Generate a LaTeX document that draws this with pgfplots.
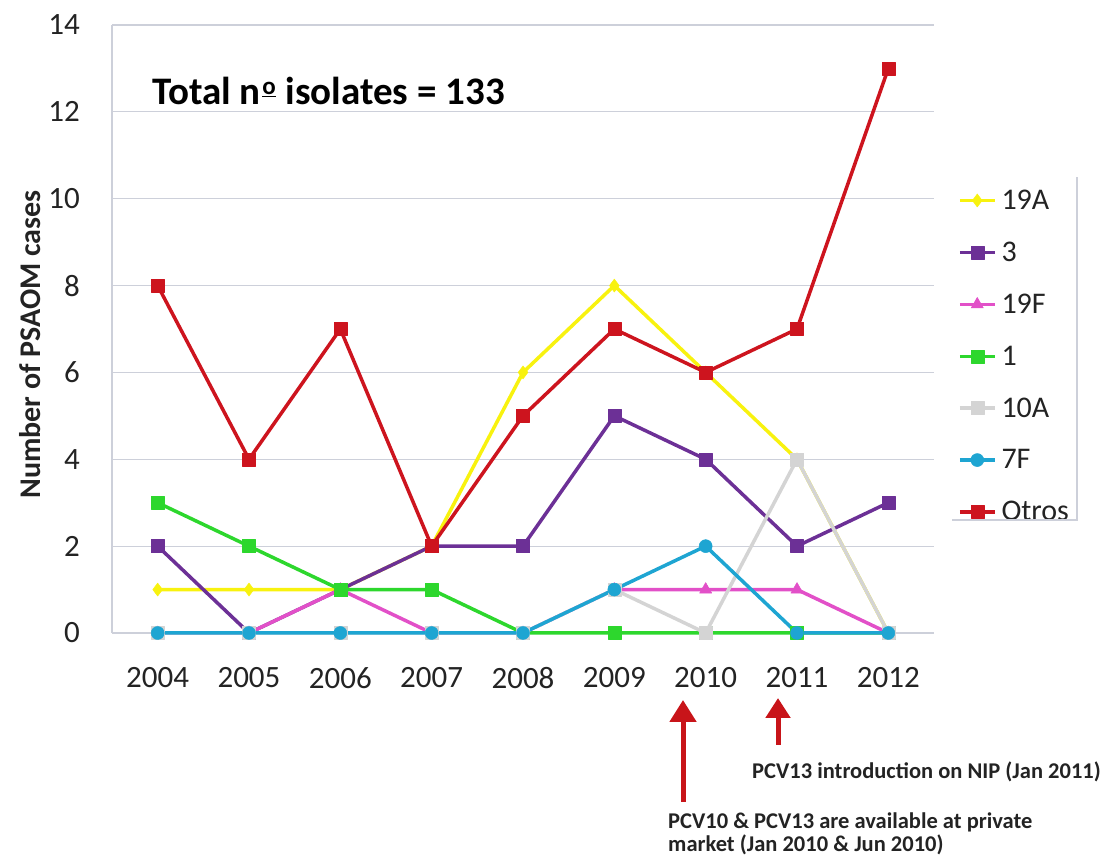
\documentclass[border=0pt]{standalone}
\usepackage{pgfplots}
\pgfplotsset{compat=1.18}
\usepackage{fontspec}
\setmainfont{Carlito}
\usetikzlibrary{arrows.meta}
\definecolor{cYel}{RGB}{248,242,15}
\definecolor{cPur}{RGB}{108,48,150}
\definecolor{cMag}{RGB}{226,80,200}
\definecolor{cGrn}{RGB}{45,215,45}
\definecolor{cGry}{RGB}{212,212,212}
\definecolor{cCya}{RGB}{30,165,210}
\definecolor{cRed}{RGB}{205,20,30}
\definecolor{gridgray}{RGB}{205,208,218}
\definecolor{txt}{RGB}{35,35,35}
\definecolor{arrowred}{RGB}{200,20,25}
\begin{document}
\begin{tikzpicture}[x=1pt,y=1pt]
\useasboundingbox (0,0) rectangle (1116,856);
\begin{axis}[
  at={(112pt,223pt)}, anchor=south west,
  scale only axis, width=822pt, height=608pt,
  xmin=2003.5, xmax=2012.5, ymin=0, ymax=14,
  xtick={2004,2005,...,2012}, ytick={0,2,...,14},
  axis x line*=bottom, axis y line*=left,
  axis line style={draw=gridgray, line width=1.2pt, -},
  ymajorgrids, grid style={gridgray, line width=1.2pt},
  major tick length=0pt,
  /pgf/number format/assume math mode=true,
  /pgf/number format/1000 sep={},
  tick label style={font=\fontsize{31}{36}\selectfont, text=txt},
  yticklabel style={anchor=east, inner sep=0pt, xshift=-32pt},
  xticklabel style={anchor=north, inner sep=0pt, yshift=-34pt},
  ylabel={Number of PSAOM cases},
  ylabel style={at={(axis description cs:-0.0998,0.4745)}, anchor=center, rotate=0, font=\bfseries\fontsize{30}{34}\selectfont, text=txt},
  legend style={at={(axis description cs:1.0292,0.7286)}, anchor=north west, draw=none, fill=none,
    inner sep=0pt, outer sep=0pt, row sep=31pt, column sep=5pt,
    nodes={inner sep=0pt}, font=\fontsize{30}{34}\selectfont, text=txt},
  legend cell align=left,
  legend image code/.code={\draw[#1, mark repeat=2, mark phase=2] plot coordinates {(0pt,0pt) (17.5pt,0pt) (35pt,0pt)};},
  every axis plot/.append style={line width=3.5pt, line join=round},
  clip=false,
]
\addplot[cYel, mark=diamond*, mark size=6.5pt, mark options={solid, fill=cYel, draw=cYel, line width=0.5pt}] coordinates {
 (2004,1)(2005,1)(2006,1)(2007,2)(2008,6)(2009,8)(2010,6)(2011,4)(2012,0)};
\addlegendentry{19A}
\addplot[cPur, mark=square*, mark size=6.5pt, mark options={solid, fill=cPur, draw=cPur, line width=0.5pt}] coordinates {
 (2004,2)(2005,0)(2006,1)(2007,2)(2008,2)(2009,5)(2010,4)(2011,2)(2012,3)};
\addlegendentry{3}
\addplot[cMag, mark=triangle*, mark size=7pt, mark options={solid, fill=cMag, draw=cMag, line width=0.5pt}] coordinates {
 (2004,0)(2005,0)(2006,1)(2007,0)(2008,0)(2009,1)(2010,1)(2011,1)(2012,0)};
\addlegendentry{19F}
\addplot[cGrn, mark=square*, mark size=6.5pt, mark options={solid, fill=cGrn, draw=cGrn, line width=0.5pt}] coordinates {
 (2004,3)(2005,2)(2006,1)(2007,1)(2008,0)(2009,0)(2010,0)(2011,0)(2012,0)};
\addlegendentry{1}
\addplot[cGry, mark=square*, mark size=6.5pt, mark options={solid, fill=cGry, draw=cGry, line width=0.5pt}] coordinates {
 (2004,0)(2005,0)(2006,0)(2007,0)(2008,0)(2009,1)(2010,0)(2011,4)(2012,0)};
\addlegendentry{10A}
\addplot[cCya, mark=*, mark size=6.5pt, mark options={solid, fill=cCya, draw=cCya, line width=0.5pt}] coordinates {
 (2004,0)(2005,0)(2006,0)(2007,0)(2008,0)(2009,1)(2010,2)(2011,0)(2012,0)};
\addlegendentry{7F}
\addplot[cRed, mark=square*, mark size=6.5pt, mark options={solid, fill=cRed, draw=cRed, line width=0.5pt}] coordinates {
 (2004,8)(2005,4)(2006,7)(2007,2)(2008,5)(2009,7)(2010,6)(2011,7)(2012,13)};
\addlegendentry{Otros}
\end{axis}
% legend frame (partial, as in the reference)
\draw[gridgray, line width=1.2pt] (952,336) -- (1077,336) -- (1077,679);
% title
\node[anchor=base west, inner sep=0pt, font=\bfseries\fontsize{39}{44}\selectfont, text=black] at (152,751) {Total n\kern1.5pt\raisebox{10pt}{\bfseries\fontsize{25}{25}\selectfont\underline{o}}\kern1pt{} isolates = 133};
% arrows
\draw[arrowred, line width=5pt, -{Triangle[width=26pt,length=22pt]}] (683,54) -- (683,156);
\draw[arrowred, line width=5pt, -{Triangle[width=24pt,length=20pt]}] (778,111) -- (778,158);
% annotations
\node[anchor=base west, inner sep=0pt, font=\bfseries\fontsize{22.5}{27}\selectfont, text=txt] at (752,77) {PCV13 introduction on NIP (Jan 2011)};
\node[anchor=base west, inner sep=0pt, font=\bfseries\fontsize{22.5}{27}\selectfont, text=txt] at (668,27) {PCV10 \& PCV13 are available at private};
\node[anchor=base west, inner sep=0pt, font=\bfseries\fontsize{22.5}{27}\selectfont, text=txt] at (668,4) {market (Jan 2010 \& Jun 2010)};
\end{tikzpicture}
\end{document}
